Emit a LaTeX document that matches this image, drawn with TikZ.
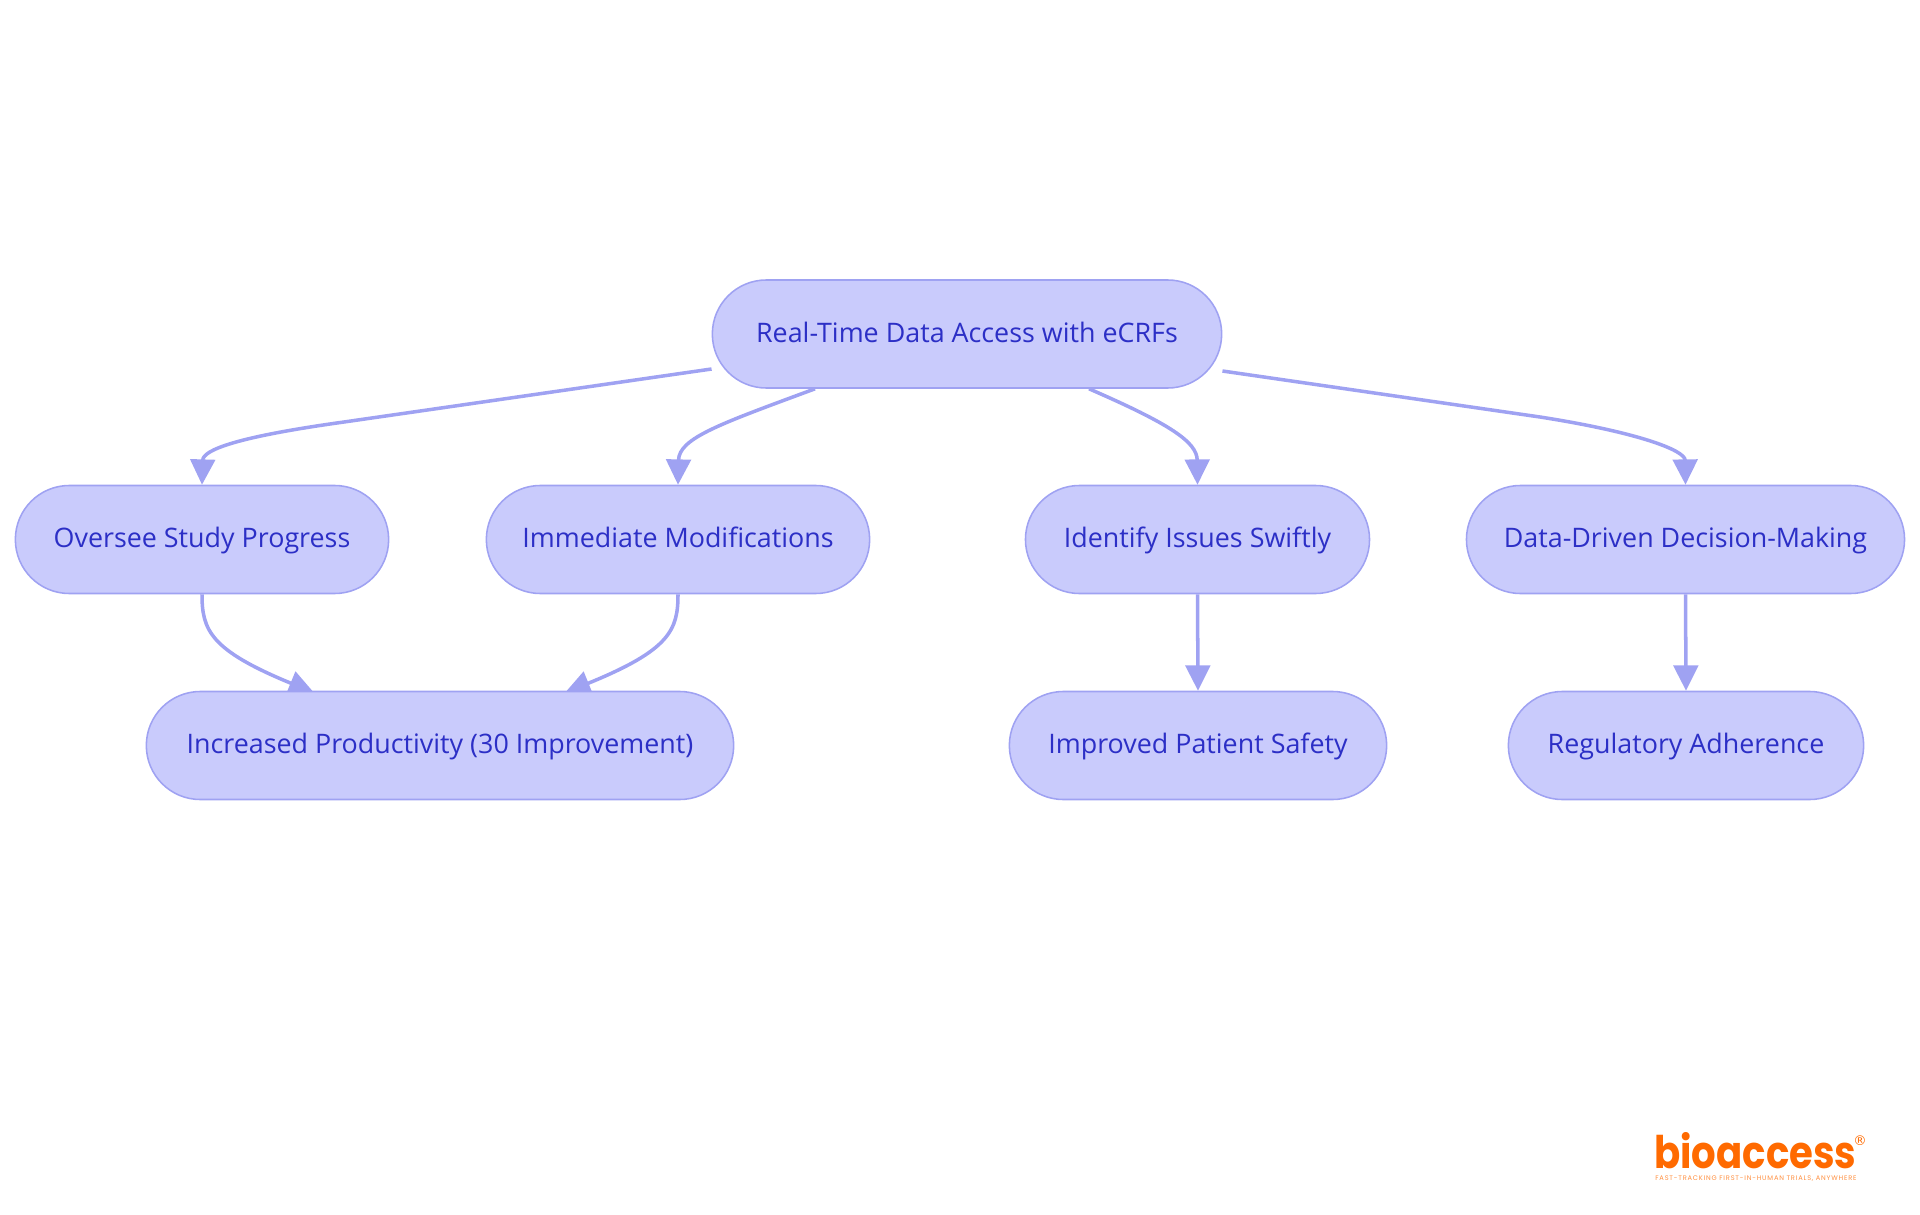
\documentclass[tikz,border=0pt]{standalone}
\usepackage{graphicx}
\usepackage{fontspec}
\setmainfont{Open Sans}
\newfontfamily\logofont{Poppins}
\newfontfamily\regfont{DejaVu Sans}
\usetikzlibrary{shapes.misc, arrows.meta, calc, backgrounds}

\definecolor{nodefill}{HTML}{C9CBFC}
\definecolor{nodeline}{HTML}{9FA2F2}
\definecolor{nodetext}{HTML}{2C2FC6}
\definecolor{logoorange}{HTML}{FF6A00}

\begin{document}
\begin{tikzpicture}[x=0.025cm,y=-0.025cm]
	\tikzstyle{box} = [draw=nodeline, fill=nodefill, text=nodetext, rounded rectangle, line width=1.1pt, minimum height=2.7cm, inner xsep=0pt, inner ysep=0pt, text height=17pt, text depth=5pt, font=\fontsize{19.1}{20}\selectfont]
	\tikzstyle{edge} = [draw=nodeline, line width=2.5pt, -{Triangle[length=18pt,width=17.5pt]}]
	\useasboundingbox (0,0) rectangle (1920,1215);
	% Top node
	\node[box, minimum width=12.73cm] (root) at (967,334) {Real-Time Data Access with eCRFs};
	% Middle row
	\node[box, minimum width=9.33cm] (oversee) at (202,539.5) {Oversee Study Progress};
	\node[box, minimum width=9.58cm] (immediate) at (678,539.5) {Immediate Modifications};
	\node[box, minimum width=8.6cm] (identify) at (1197.5,539.5) {Identify Issues Swiftly};
	\node[box, minimum width=10.95cm] (data) at (1685.5,539.5) {Data-Driven Decision-Making};
	% Bottom row
	\node[box, minimum width=14.68cm] (increased) at (440,745.5) {Increased Productivity (30 Improvement)};
	\node[box, minimum width=9.43cm] (improved) at (1198,745.5) {Improved Patient Safety};
	\node[box, minimum width=8.88cm] (regulatory) at (1686,745.5) {Regulatory Adherence};

	% Free ends of the edges
	\coordinate (rootleft) at ($(root.west)+(0,35)$);
	\coordinate (rootright) at ($(root.east)+(0,37)$);
	\coordinate (rootbl) at ($(root.south)+(-152,0)$);
	\coordinate (rootbr) at ($(root.south)+(122,0)$);
	\coordinate (incleft) at ($(increased.north)+(-126,2)$);
	\coordinate (incright) at ($(increased.north)+(125,2)$);

	% Connect nodes
	\begin{scope}[on background layer]
		\draw[edge] (rootleft) -- (344,422) .. controls (236,437) and (203,450) .. (oversee.north);
		\draw[edge] (rootbl) .. controls (720,424) and (679,438) .. (immediate.north);
		\draw[edge] (rootbr) .. controls (1170,424) and (1197,442) .. (identify.north);
		\draw[edge] (rootright) -- (1540,417) .. controls (1636,432) and (1685,450) .. (data.north);
		\draw[edge] (oversee.south) .. controls (202,630) and (210,650) .. (incleft);
		\draw[edge] (immediate.south) .. controls (678,630) and (670,650) .. (incright);
		\draw[edge] (identify.south) -- (improved.north);
		\draw[edge] (data.south) -- (regulatory.north);
	\end{scope}

	% Logo
	\node[text=logoorange, inner sep=0pt, anchor=base west, font=\logofont\bfseries] (logo) at (1654,1168) {\resizebox{5.05cm}{0.9cm}{bioaccess}};
	\node[text=logoorange, inner sep=0pt, font=\regfont\fontsize{9.5}{10}\selectfont] (reg) at (1860,1141) {®};
	\node[text=logoorange!75, inner sep=0pt, anchor=base west, font=\logofont] (tagline) at (1655,1180) {\resizebox{5.03cm}{!}{\addfontfeature{LetterSpace=12}FAST-TRACKING FIRST-IN-HUMAN TRIALS, ANYWHERE}};
\end{tikzpicture}
\end{document}
